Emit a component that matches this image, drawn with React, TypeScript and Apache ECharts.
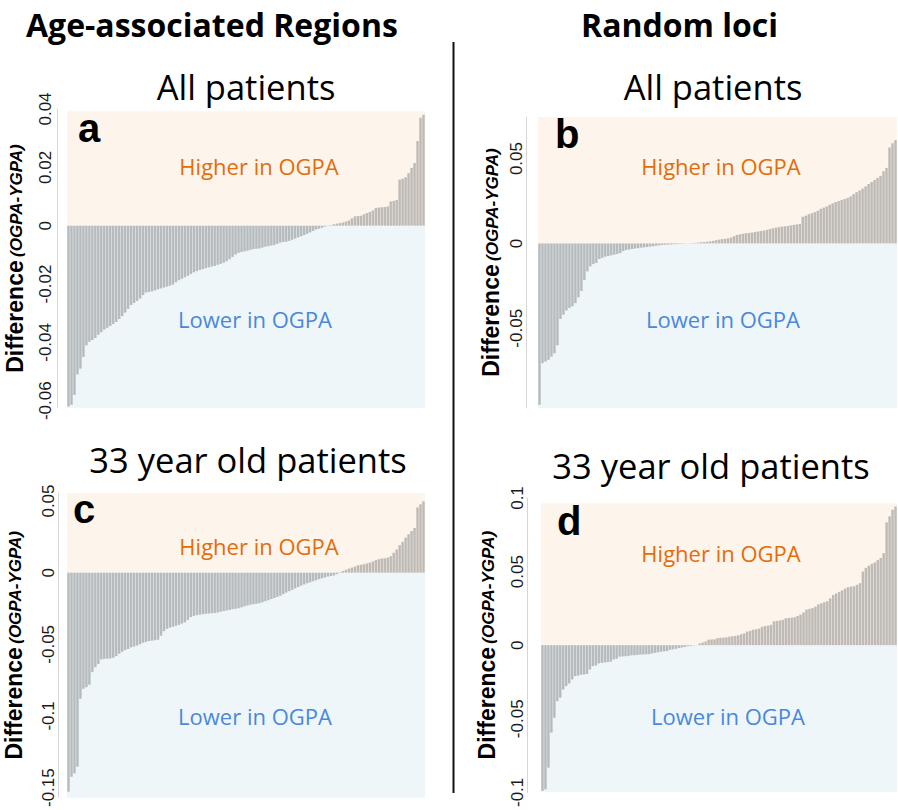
import React, { useEffect, useRef } from "react";
import * as echarts from "echarts";

// Sorted per-region differences (OGPA - YGPA)
const ageAllDiff = [
  -0.062, -0.0614, -0.058, -0.051, -0.049, -0.045, -0.041, -0.0398, -0.0392, -0.0385,
  -0.0374, -0.0365, -0.0356, -0.035, -0.0344, -0.0337, -0.033, -0.032, -0.031, -0.0298,
  -0.0285, -0.0272, -0.0265, -0.0258, -0.025, -0.0238, -0.0229, -0.0227, -0.0225, -0.0222,
  -0.0218, -0.0215, -0.0212, -0.0209, -0.0206, -0.0202, -0.0194, -0.0187, -0.0182, -0.0177,
  -0.0172, -0.0166, -0.016, -0.0156, -0.0152, -0.0149, -0.0146, -0.0143, -0.014, -0.0138,
  -0.0134, -0.0131, -0.0127, -0.0122, -0.0115, -0.0107, -0.0099, -0.0093, -0.009, -0.0088,
  -0.0086, -0.0083, -0.008, -0.0079, -0.0078, -0.0075, -0.0072, -0.007, -0.0068, -0.0066,
  -0.0062, -0.0058, -0.0056, -0.0055, -0.0052, -0.0048, -0.0044, -0.004, -0.0036, -0.0032,
  -0.0028, -0.0023, -0.0018, -0.0013, -0.001, -0.0007, -0.0003, -0.0001, 0.0002, 0.0005,
  0.0007, 0.0009, 0.0011, 0.0014, 0.0018, 0.0025, 0.0032, 0.0033, 0.0034, 0.0039,
  0.0043, 0.0047, 0.0052, 0.006, 0.0062, 0.0063, 0.0064, 0.0066, 0.0083, 0.0085,
  0.0088, 0.0158, 0.0161, 0.0166, 0.018, 0.0198, 0.0215, 0.029, 0.037, 0.038,
];

const randomAllDiff = [
  -0.0951, -0.0706, -0.0696, -0.0686, -0.0667, -0.0647, -0.06, -0.0445, -0.042, -0.0395,
  -0.038, -0.037, -0.0352, -0.0318, -0.028, -0.0215, -0.0165, -0.0135, -0.0122, -0.0115,
  -0.0092, -0.0085, -0.0078, -0.0074, -0.007, -0.0066, -0.0062, -0.0057, -0.0045, -0.0039,
  -0.0036, -0.0033, -0.003, -0.0028, -0.0025, -0.0023, -0.0021, -0.0019, -0.0017, -0.0014,
  -0.0011, -0.0009, -0.0008, -0.0007, -0.0006, -0.0005, -0.0004, -0.0003, -0.0002, -0.0001,
  0.0001, 0.0002, 0.0003, 0.0005, 0.0007, 0.0008, 0.001, 0.0012, 0.0015, 0.0019,
  0.0022, 0.0025, 0.0027, 0.003, 0.0034, 0.0042, 0.005, 0.0054, 0.0057, 0.006,
  0.0062, 0.0064, 0.0067, 0.007, 0.0073, 0.0076, 0.008, 0.0085, 0.0089, 0.0093,
  0.0096, 0.0099, 0.0101, 0.0103, 0.0106, 0.0109, 0.0112, 0.0115, 0.0157, 0.0163,
  0.0172, 0.0178, 0.0184, 0.0192, 0.0204, 0.0211, 0.0218, 0.0228, 0.0236, 0.0244,
  0.025, 0.0256, 0.0262, 0.0268, 0.0277, 0.029, 0.0302, 0.0312, 0.0323, 0.0336,
  0.035, 0.0362, 0.0374, 0.0386, 0.0398, 0.0425, 0.0445, 0.0565, 0.059, 0.0608,
];

const ageYoungDiff = [
  -0.1528, -0.1424, -0.14, -0.1354, -0.088, -0.081, -0.0799, -0.0782, -0.0694, -0.066,
  -0.0637, -0.0605, -0.0602, -0.06, -0.0598, -0.0594, -0.0582, -0.0565, -0.0552, -0.054,
  -0.0532, -0.0521, -0.0515, -0.0509, -0.0499, -0.0489, -0.0483, -0.0477, -0.0474, -0.0471,
  -0.0468, -0.044, -0.0408, -0.0392, -0.0384, -0.0378, -0.0371, -0.0364, -0.0355, -0.0347,
  -0.033, -0.031, -0.0302, -0.0296, -0.0293, -0.029, -0.0287, -0.0285, -0.0283, -0.0282,
  -0.0278, -0.0273, -0.0268, -0.0264, -0.026, -0.0255, -0.0252, -0.0248, -0.0242, -0.0235,
  -0.0229, -0.0224, -0.022, -0.0217, -0.0213, -0.0206, -0.0199, -0.0192, -0.0184, -0.0177,
  -0.0169, -0.0161, -0.015, -0.0139, -0.0129, -0.012, -0.011, -0.01, -0.009, -0.0082,
  -0.0074, -0.0067, -0.006, -0.0053, -0.0045, -0.0039, -0.0033, -0.0027, -0.0023, -0.0019,
  -0.001, 0.0004, 0.0012, 0.002, 0.0028, 0.0035, 0.0042, 0.0051, 0.0055, 0.0059,
  0.0064, 0.007, 0.0078, 0.0087, 0.0094, 0.0099, 0.01, 0.0105, 0.0115, 0.0139,
  0.0162, 0.0192, 0.0215, 0.0245, 0.0268, 0.029, 0.0312, 0.0455, 0.0477, 0.0498,
];

const randomYoungDiff = [
  -0.099, -0.0979, -0.0832, -0.0594, -0.0493, -0.038, -0.0357, -0.0301, -0.0278, -0.026,
  -0.0233, -0.021, -0.0207, -0.0201, -0.0199, -0.0196, -0.0165, -0.0142, -0.0138, -0.0124,
  -0.012, -0.0117, -0.0115, -0.0112, -0.0097, -0.0093, -0.0078, -0.0076, -0.0075, -0.0073,
  -0.0069, -0.0068, -0.0066, -0.0064, -0.0063, -0.0062, -0.0061, -0.0056, -0.0052, -0.0048,
  -0.0044, -0.0042, -0.004, -0.0031, -0.0028, -0.0025, -0.0019, -0.0016, -0.0012, -0.0007,
  -0.0005, -0.0002, 0.0001, 0.0012, 0.0018, 0.0025, 0.0037, 0.0039, 0.004, 0.0048,
  0.005, 0.0051, 0.0053, 0.0058, 0.0061, 0.0063, 0.0067, 0.0075, 0.008, 0.0092,
  0.0097, 0.0105, 0.0108, 0.0112, 0.0125, 0.013, 0.0133, 0.0138, 0.0162, 0.0165,
  0.0168, 0.0172, 0.0183, 0.0185, 0.0187, 0.019, 0.0198, 0.0208, 0.0222, 0.0242,
  0.0247, 0.0252, 0.0262, 0.0278, 0.0284, 0.0292, 0.0299, 0.0318, 0.0341, 0.0352,
  0.0362, 0.0372, 0.0385, 0.0394, 0.0398, 0.04, 0.041, 0.0421, 0.05, 0.0525,
  0.054, 0.0552, 0.0562, 0.0578, 0.0592, 0.0625, 0.0835, 0.0875, 0.092, 0.0942,
];

// Tick labels of each panel's y axis
const ticksA = [-0.06, -0.04, -0.02, 0, 0.02, 0.04];
const ticksB = [-0.05, 0, 0.05];
const ticksC = [-0.15, -0.1, -0.05, 0, 0.05];
const ticksD = [-0.1, -0.05, 0, 0.05, 0.1];

// Axis extents and top of the shaded "higher" band
const extentA = [-0.0625, 0.04];
const extentB = [-0.097, 0.0745];
const extentC = [-0.157, 0.0556];
const extentD = [-0.1, 0.1];
const bandTops = [0.0392, 0.0745, 0.0556, 0.0965];

const panelLetters = ["a", "b", "c", "d"];
const columnTitles = ["Age-associated Regions", "Random loci"];
const rowTitles = ["All patients", "33 year old patients"];
const higherLabel = "Higher in OGPA";
const lowerLabel = "Lower in OGPA";
const axisTitleMain = "Difference";
const axisTitleSub = "(OGPA-YGPA)";

const PEACH = "#fdf4ec";
const ICE = "#eef6fa";
const ORANGE = "#e46c0a";
const BLUE = "#4a88da";

const panels = [
  { data: ageAllDiff, ticks: ticksA, extent: extentA, bgTop: bandTops[0], grid: { left: 67, top: 109, width: 358, height: 299 }, offset: 10, margin: 3, nameGap: 31 },
  { data: randomAllDiff, ticks: ticksB, extent: extentB, bgTop: bandTops[1], grid: { left: 538, top: 117, width: 359, height: 291 }, offset: 12, margin: 1, nameGap: 24 },
  { data: ageYoungDiff, ticks: ticksC, extent: extentC, bgTop: bandTops[2], grid: { left: 67, top: 493, width: 358, height: 307 }, offset: 9, margin: 1, nameGap: 33 },
  { data: randomYoungDiff, ticks: ticksD, extent: extentD, bgTop: bandTops[3], grid: { left: 541, top: 498, width: 356, height: 295 }, offset: 14, margin: 1, nameGap: 29 },
];

const letterPos = [
  [78, 128],
  [555, 134],
  [73, 509],
  [557, 521],
];
const higherPos = [
  [259, 166],
  [721, 166],
  [259, 546],
  [721, 553],
];
const lowerPos = [
  [255, 319],
  [723, 319],
  [255, 716],
  [728, 716],
];

function fmt(v: number) {
  return String(+v.toFixed(4));
}

export default function App() {
  const ref = useRef<HTMLDivElement>(null);

  useEffect(() => {
    if (!ref.current) return;
    const chart = echarts.init(ref.current, undefined, { renderer: "svg" });

    const grids: any[] = [];
    const xAxes: any[] = [];
    const yAxes: any[] = [];
    const series: any[] = [];

    panels.forEach((p, k) => {
      grids.push({ ...p.grid, containLabel: false });
      xAxes.push({
        type: "category",
        gridIndex: k,
        data: p.data.map((_, i) => String(i + 1)),
        boundaryGap: true,
        show: false,
      });
      yAxes.push({
        type: "value",
        gridIndex: k,
        min: p.extent[0],
        max: p.extent[1],
        offset: p.offset,
        axisLine: { show: true, lineStyle: { color: "#d6d6d6", width: 1 } },
        axisTick: { show: false },
        splitLine: { show: false },
        axisLabel: {
          customValues: p.ticks,
          rotate: 90,
          margin: p.margin,
          fontFamily: "Liberation Sans",
          fontSize: 17,
          color: "#1a1a1a",
          formatter: (v: number) => fmt(v),
        },
        name: `{d|${axisTitleMain}} {p|${axisTitleSub}}`,
        nameLocation: "middle",
        nameRotate: 90,
        nameGap: p.nameGap,
        nameTextStyle: {
          rich: {
            d: { fontFamily: "Liberation Sans", fontWeight: "bold", fontSize: 23, color: "#000" },
            p: { fontFamily: "Liberation Sans", fontWeight: "bold", fontStyle: "italic", fontSize: 17, color: "#000", padding: [3, 0, 0, 0] },
          },
        },
      });
      series.push({
        type: "line",
        xAxisIndex: k,
        yAxisIndex: k,
        data: [],
        z: 1,
        silent: true,
        markArea: {
          silent: true,
          label: { show: false },
          data: [
            [{ yAxis: 0, itemStyle: { color: PEACH } }, { yAxis: p.bgTop }],
            [{ yAxis: p.extent[0], itemStyle: { color: ICE } }, { yAxis: 0 }],
          ],
        },
      });
      series.push({
        type: "bar",
        xAxisIndex: k,
        yAxisIndex: k,
        data: p.data,
        z: 3,
        barCategoryGap: "18%",
        itemStyle: { color: "rgba(128,128,128,0.5)" },
        silent: true,
      });
    });

    const graphics: any[] = [];
    const titleFont = '"Open Sans", "Liberation Sans", sans-serif';
    graphics.push({
      type: "text",
      x: 26,
      y: 24,
      style: {
        text: columnTitles[0],
        font: `bold 32px ${titleFont}`,
        fill: "#000",
        textAlign: "left",
        textVerticalAlign: "middle",
      },
    });
    graphics.push({
      type: "text",
      x: 581,
      y: 24,
      style: {
        text: columnTitles[1],
        font: `bold 32px ${titleFont}`,
        fill: "#000",
        textAlign: "left",
        textVerticalAlign: "middle",
      },
    });
    const rowPos = [
      [246, 86],
      [713, 86],
      [248, 459],
      [711, 465],
    ];
    rowPos.forEach((pos, k) => {
      graphics.push({
        type: "text",
        x: pos[0],
        y: pos[1],
        style: {
          text: rowTitles[k < 2 ? 0 : 1],
          font: `34.5px ${titleFont}`,
          fill: "#000",
          textAlign: "center",
          textVerticalAlign: "middle",
        },
      });
    });
    panels.forEach((_, k) => {
      graphics.push({
        type: "text",
        x: letterPos[k][0],
        y: letterPos[k][1],
        z: 10,
        style: {
          text: panelLetters[k],
          font: 'bold 40px "Liberation Sans", Arial, sans-serif',
          fill: "#000",
          textAlign: "left",
          textVerticalAlign: "middle",
        },
      });
      graphics.push({
        type: "text",
        x: higherPos[k][0],
        y: higherPos[k][1],
        z: 10,
        style: {
          text: higherLabel,
          font: `22px ${titleFont}`,
          fill: ORANGE,
          textAlign: "center",
          textVerticalAlign: "middle",
        },
      });
      graphics.push({
        type: "text",
        x: lowerPos[k][0],
        y: lowerPos[k][1],
        z: 10,
        style: {
          text: lowerLabel,
          font: `22px ${titleFont}`,
          fill: BLUE,
          textAlign: "center",
          textVerticalAlign: "middle",
        },
      });
    });
    graphics.push({
      type: "line",
      shape: { x1: 453.5, y1: 42, x2: 453.5, y2: 793 },
      style: { stroke: "#111", lineWidth: 2 },
    });

    chart.setOption({
      animation: false,
      backgroundColor: "#fff",
      grid: grids,
      xAxis: xAxes,
      yAxis: yAxes,
      series,
      graphic: graphics,
    });

    return () => chart.dispose();
  }, []);

  return (
    <div
      ref={ref}
      style={{ position: "absolute", left: 0, top: 0, width: 898, height: 810 }}
    />
  );
}
